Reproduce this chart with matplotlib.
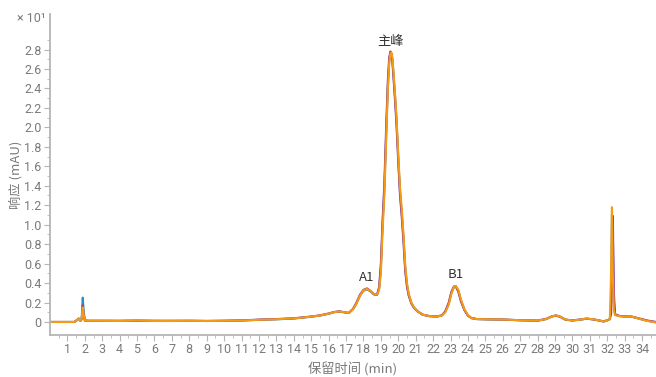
import matplotlib.pyplot as plt

# retention time (min) and response (x10 mAU)
time = [0, 1.4, 1.55, 1.65, 1.75, 1.82, 1.88, 1.93, 2.0, 2.2,
        3, 4, 5, 6, 7, 8, 9, 10, 11, 12, 13, 14, 14.5, 15, 15.5, 16,
        16.3, 16.6, 16.9, 17.15, 17.4, 17.6, 17.8, 18.0, 18.2, 18.4, 18.6, 18.78,
        18.9, 19.0, 19.1, 19.2, 19.3, 19.4, 19.48, 19.55, 19.6, 19.66, 19.73,
        19.82, 19.9, 20.0, 20.1, 20.2, 20.3, 20.4, 20.5, 20.6, 20.75, 20.9,
        21.1, 21.4, 21.8, 22.2, 22.5, 22.7, 22.9, 23.05, 23.2, 23.3, 23.45,
        23.6, 23.8, 24.0, 24.2, 24.5, 25, 26, 27, 28, 28.5, 28.8, 29.05, 29.3,
        29.6, 30, 30.5, 30.8, 31.2, 31.8, 32.05, 32.15, 32.22, 32.27, 32.32,
        32.38, 32.45, 32.7, 33, 33.4, 33.8, 34.3, 34.8]

orange = [0.0, 0.0, 0.02, 0.035, 0.012, 0.03, 0.15, 0.08, 0.015, 0.012,
          0.012, 0.01, 0.015, 0.01, 0.01, 0.012, 0.01, 0.012, 0.015, 0.022, 0.028, 0.037, 0.045, 0.055, 0.066, 0.085,
          0.1, 0.108, 0.1, 0.092, 0.13, 0.19, 0.27, 0.325, 0.34, 0.32, 0.285, 0.28,
          0.33, 0.5, 0.95, 1.3, 1.85, 2.38, 2.66, 2.76, 2.77, 2.72, 2.56,
          2.33, 2.1, 1.72, 1.38, 1.16, 0.9, 0.58, 0.4, 0.29, 0.2, 0.15,
          0.11, 0.075, 0.06, 0.055, 0.065, 0.1, 0.18, 0.29, 0.36, 0.37, 0.33,
          0.23, 0.13, 0.07, 0.04, 0.03, 0.028, 0.025, 0.018, 0.014, 0.03, 0.055, 0.068, 0.055,
          0.025, 0.015, 0.025, 0.035, 0.028, 0.005, 0.02, 0.03, 0.5, 1.18, 0.5,
          0.12, 0.07, 0.06, 0.055, 0.055, 0.035, 0.01, -0.005]

purple = [0.0, 0.0, 0.02, 0.035, 0.012, 0.03, 0.17, 0.09, 0.015, 0.012,
          0.012, 0.012, 0.013, 0.012, 0.012, 0.012, 0.01, 0.012, 0.016, 0.024, 0.03, 0.038, 0.047, 0.056, 0.068, 0.087,
          0.102, 0.11, 0.1, 0.092, 0.135, 0.2, 0.28, 0.33, 0.345, 0.32, 0.285, 0.28,
          0.36, 0.6, 1.05, 1.42, 1.98, 2.48, 2.72, 2.78, 2.76, 2.68, 2.5,
          2.26, 2.02, 1.64, 1.3, 1.08, 0.82, 0.52, 0.36, 0.27, 0.19, 0.145,
          0.11, 0.075, 0.06, 0.056, 0.068, 0.11, 0.2, 0.31, 0.365, 0.365, 0.31,
          0.21, 0.12, 0.065, 0.04, 0.03, 0.028, 0.025, 0.018, 0.014, 0.032, 0.056, 0.066, 0.052,
          0.024, 0.016, 0.026, 0.034, 0.026, 0.006, 0.02, 0.03, 0.08, 0.4, 1.09,
          0.3, 0.08, 0.062, 0.058, 0.055, 0.038, 0.015, 0.0]

blue = [0.0, 0.0, 0.02, 0.035, 0.012, 0.03, 0.25, 0.12, 0.015, 0.012,
        0.012, 0.011, 0.014, 0.011, 0.011, 0.012, 0.01, 0.012, 0.015, 0.022, 0.027, 0.035, 0.044, 0.054, 0.065, 0.084,
        0.1, 0.106, 0.099, 0.091, 0.13, 0.19, 0.27, 0.32, 0.335, 0.315, 0.283, 0.278,
        0.34, 0.55, 1.0, 1.36, 1.9, 2.42, 2.68, 2.76, 2.76, 2.7, 2.53,
        2.3, 2.06, 1.68, 1.34, 1.12, 0.86, 0.55, 0.38, 0.28, 0.195, 0.148,
        0.11, 0.074, 0.059, 0.055, 0.066, 0.105, 0.19, 0.3, 0.362, 0.368, 0.32,
        0.22, 0.125, 0.068, 0.04, 0.03, 0.027, 0.024, 0.017, 0.013, 0.03, 0.055, 0.067, 0.054,
        0.024, 0.015, 0.025, 0.034, 0.027, 0.005, 0.02, 0.03, 0.2, 1.1, 0.9,
        0.2, 0.075, 0.06, 0.055, 0.055, 0.035, 0.012, -0.003]

peak_names = ['主峰', 'A1', 'B1']
peak_times = [19.58, 18.2, 23.3]
peak_heights = [2.77, 0.34, 0.37]

x_ticks = list(range(1, 35))
y_ticks = [0, 0.2, 0.4, 0.6, 0.8, 1.0, 1.2, 1.4, 1.6, 1.8, 2.0, 2.2, 2.4, 2.6, 2.8]
y_labels = ['0', '0.2', '0.4', '0.6', '0.8', '1.0', '1.2', '1.4', '1.6', '1.8',
            '2.0', '2.2', '2.4', '2.6', '2.8']

plt.rcParams['font.family'] = ['Roboto', 'Noto Sans CJK SC', 'DejaVu Sans']

fig = plt.figure(figsize=(6.56, 3.77), dpi=100)
ax = fig.add_axes([50 / 656, 1 - 335 / 377, 1 - 50 / 656, (335 - 14) / 377])

ax.plot(time, blue, color='#2a8fc4', lw=1.5)
ax.plot(time, purple, color='#9c3a8c', lw=1.5)
ax.plot(time, orange, color='#f59a12', lw=1.5)

for name, t, h in zip(peak_names, peak_times, peak_heights):
    ax.annotate(name, (t, h), xytext=(0, 3.5), textcoords='offset points',
                ha='center', va='bottom', fontsize=9.5, color='#333333', fontweight='medium',
                family=['Noto Sans CJK SC', 'DejaVu Sans'])

ax.set_xlim(0, 34.8)
ax.set_ylim(-0.134, 3.165)
ax.set_xticks(x_ticks)
ax.set_xticks([x + 0.5 for x in range(0, 35)], minor=True)
ax.set_yticks(y_ticks)
ax.set_yticklabels(y_labels)
ax.set_yticks([0.1 + 0.2 * i for i in range(15)], minor=True)

for side in ['top', 'right']:
    ax.spines[side].set_visible(False)
for side in ['left', 'bottom']:
    ax.spines[side].set_color('#b5b5b5')
    ax.spines[side].set_linewidth(1.3)

ax.tick_params(which='major', length=4, color='#b5b5b5', labelcolor='#7a7a7a', labelsize=9, pad=2)
ax.tick_params(which='minor', length=2, color='#b5b5b5')

ax.set_xlabel('保留时间 (min)', color='#7a7a7a', fontsize=9.5, labelpad=4,
              family=['Noto Sans CJK SC', 'DejaVu Sans'])
ax.set_ylabel('响应 (mAU)', color='#7a7a7a', fontsize=9.5, labelpad=1,
              family=['Noto Sans CJK SC', 'DejaVu Sans'])
fig.text(46 / 656, 1 - 18 / 377, '× 10¹', ha='right', va='center', color='#7a7a7a', fontsize=9)

fig.savefig('out.png', dpi=100)
